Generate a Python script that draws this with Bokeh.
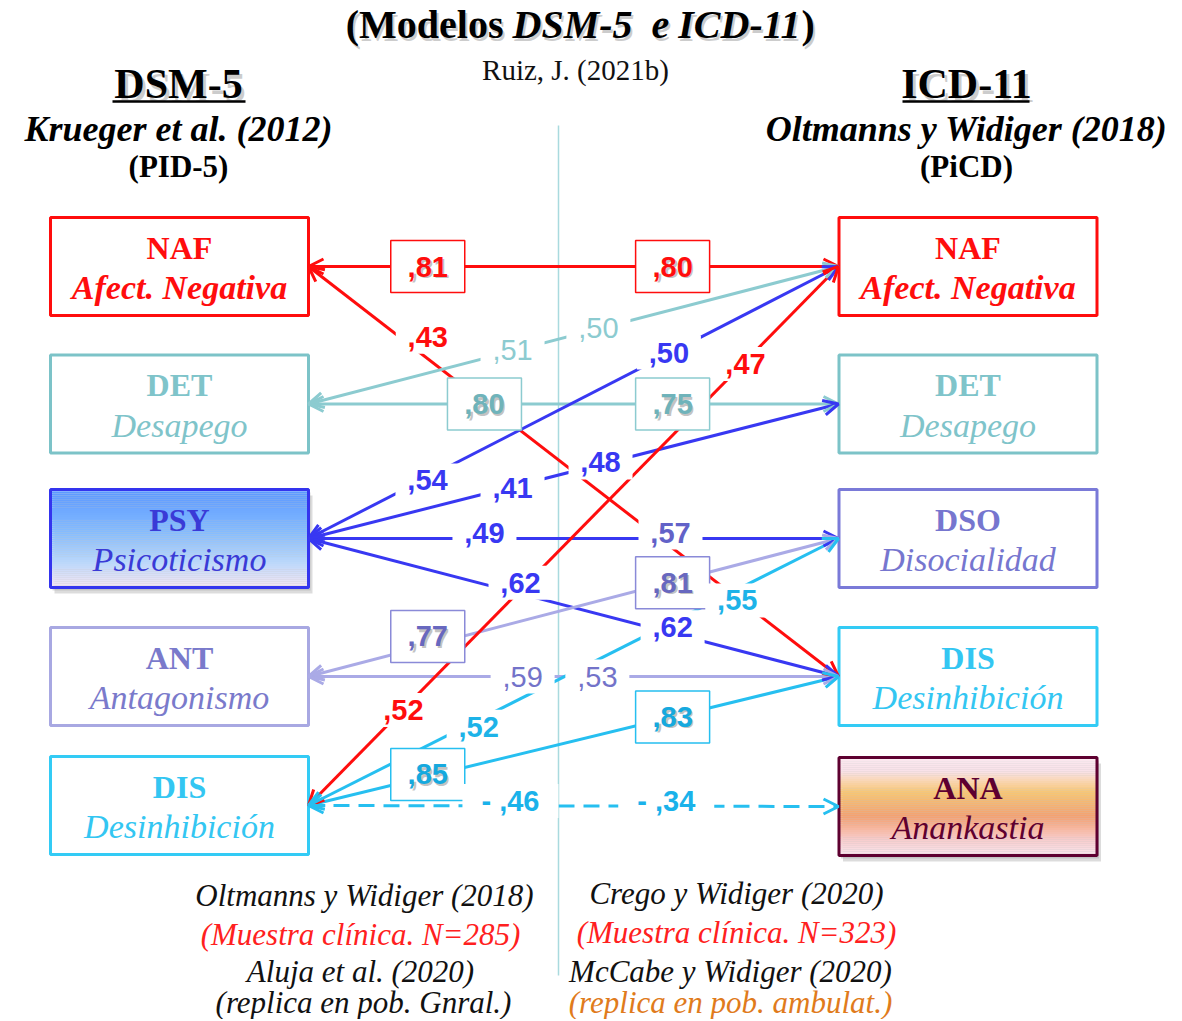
import numpy as np
from bokeh.plotting import figure
from bokeh.models import Range1d, Arrow, OpenHead
from bokeh.core.properties import value
from bokeh.embed import file_html
from bokeh.resources import INLINE

# ------------------------------------------------------------------ data
left_codes = ["NAF", "DET", "PSY", "ANT", "DIS"]
left_names = ["Afect. Negativa", "Desapego", "Psicoticismo", "Antagonismo", "Desinhibición"]
right_codes = ["NAF", "DET", "DSO", "DIS", "ANA"]
right_names = ["Afect. Negativa", "Desapego", "Disocialidad", "Desinhibición", "Anankastia"]

edge_from = [0, 0, 1, 1, 2, 2, 2, 2, 3, 3, 4, 4, 4, 4]      # DSM-5 (PID-5) trait
edge_to = [0, 3, 1, 0, 0, 1, 2, 3, 2, 3, 0, 2, 3, 4]        # ICD-11 (PiCD) trait
val_left = [",81", ",43", ",80", ",51", ",54", ",41", ",49", ",62", ",77", ",59", ",52", ",52", ",85", "- ,46"]
val_right = [",80", "", ",75", ",50", ",50", ",48", ",57", ",62", ",81", ",53", ",47", ",55", ",83", "- ,34"]
edge_boxed = [True, False, True, False, False, False, False, False, True, False, False, False, True, False]
edge_dashed = [False] * 13 + [True]

title_parts = ["(Modelos", "DSM-5", "e", "ICD-11", ")"]
author = "Ruiz, J. (2021b)"
left_head = ["DSM-5", "Krueger et al. (2012)", "(PID-5)"]
right_head = ["ICD-11", "Oltmanns y Widiger (2018)", "(PiCD)"]
left_refs = ["Oltmanns y Widiger (2018)", "(Muestra clínica. N=285)", "Aluja et al. (2020)", "(replica en pob. Gnral.)"]
right_refs = ["Crego y Widiger (2020)", "(Muestra clínica. N=323)", "McCabe y Widiger (2020)", "(replica en pob. ambulat.)"]

# ------------------------------------------------------------------ layout / style
W, H = 1180, 1019
RED = "#ff0d0d"
TEAL_L = "#8ccbd0"
TEAL_T = "#7fc4ca"
BLUE = "#3838f2"
LAV_L = "#aaaae6"
LAV_T = "#7373c9"
CYAN = "#26bff0"

left_box_col = [RED, "#7cc3c8", "#3434ee", "#a8a8e2", "#33cbf5"]
left_code_col = [RED, TEAL_T, "#3a3ad6", "#7a7acb", "#33c6f2"]
right_box_col = [RED, "#7cc3c8", "#7a7ad8", "#33cbf5", "#5e0030"]
right_code_col = [RED, TEAL_T, "#7676cf", "#33c6f2", "#5e0030"]
left_name_bold = [True, False, False, False, False]
right_name_bold = [True, False, False, False, False]

edge_col = [RED, RED, TEAL_L, TEAL_L, BLUE, BLUE, BLUE, BLUE, LAV_L, LAV_L, RED, CYAN, CYAN, CYAN]
lab_col_l = [RED, RED, "#6fb3ba", TEAL_L, BLUE, BLUE, BLUE, BLUE, "#6868bf", LAV_T, RED, "#1db3e8", "#16a9de", "#1ab2ea"]
lab_col_r = [RED, RED, "#6fb3ba", TEAL_L, BLUE, BLUE, "#6262c8", BLUE, "#6868bf", LAV_T, RED, "#1db3e8", "#16a9de", "#1ab2ea"]
lab_bold = [True, True, True, False, True, True, True, True, True, False, True, True, True, True]

t_left = [.225, .225, .332, .385, .2245, .385, .332, .40, .225, .404, .179, .321, .225, .381]
dy_left = [0, -22, 0, -1, 3, 1, -6, -11, -9, 0, 1, 7, -2, -5]
t_right = [.687, .687, .687, .547, .68, .551, .683, .687, .687, .545, .8245, .809, .687, .675]
dy_right = [0, 0, 0, -1, -1, -2, -6, -6, 1, 0, 3, 11, 0, -5]

LX, RX = 308, 838
LCX, RCX, BW, BH = 179, 967.5, 258, 98
box_y_l = [266, 403.5, 538, 676, 805]
box_y_r = [266, 403.5, 538, 676, 806]

SERIF = value("Liberation Serif")
SANS = value("Liberation Sans")

p = figure(width=W, height=H, x_range=Range1d(0, W), y_range=Range1d(H, 0),
           output_backend="svg", toolbar_location=None, min_border=0,
           x_axis_location=None, y_axis_location=None)
p.grid.visible = False
p.outline_line_color = None
p.background_fill_color = "white"

# center divider
p.segment(x0=[558], y0=[125], x1=[558], y1=[975], line_color="#a9dade", line_width=1.5)

# edges
for i in range(len(edge_from)):
    y0 = box_y_l[edge_from[i]]
    y1 = box_y_r[edge_to[i]]
    p.segment(x0=[LX], y0=[y0], x1=[RX], y1=[y1], line_color=edge_col[i], line_width=3,
              line_dash="16 9" if edge_dashed[i] else "solid")
    p.add_layout(Arrow(x_start=RX, y_start=y1, x_end=LX, y_end=y0, line_alpha=0,
                       start=OpenHead(size=15, line_color=edge_col[i], line_width=3),
                       end=OpenHead(size=15, line_color=edge_col[i], line_width=3)))


def grad(stops, n):
    pos = [s[0] for s in stops]
    cols = np.array([[int(s[1][k:k + 2], 16) for k in (1, 3, 5)] for s in stops], float)
    out = []
    for k in range(n):
        f = (k + 0.5) / n
        rgb = [int(round(np.interp(f, pos, cols[:, c]))) for c in range(3)]
        out.append("#%02x%02x%02x" % tuple(rgb))
    return out


def draw_box(cx, cy, border, gradient=None, shadow=False):
    if shadow:
        p.rect(x=[cx + 4], y=[cy + 6], width=BW, height=BH, fill_color="#9a9a9a",
               fill_alpha=0.35, line_color=None)
        p.rect(x=[cx + 2], y=[cy + 3], width=BW, height=BH, fill_color="#8a8a8a",
               fill_alpha=0.3, line_color=None)
    if gradient is not None:
        n = 50
        ys = np.linspace(cy - BH / 2, cy + BH / 2, n + 1)
        p.quad(left=cx - BW / 2, right=cx + BW / 2, top=ys[:-1], bottom=ys[1:],
               fill_color=grad(gradient, n), line_color=None)
        p.rect(x=[cx], y=[cy], width=BW, height=BH, fill_color=None, line_color=border, line_width=3)
    else:
        p.rect(x=[cx], y=[cy], width=BW, height=BH, fill_color="white", line_color=border, line_width=3)


psy_grad = [(0, "#5a97ff"), (0.45, "#86bdff"), (0.75, "#bcd8fa"), (1, "#f6e6f4")]
ana_grad = [(0, "#fbe8f0"), (0.14, "#f9e2e8"), (0.36, "#f8c672"), (0.6, "#f4a070"), (0.84, "#f7cccc"), (1, "#fbe6ee")]

for i in range(5):
    draw_box(LCX, box_y_l[i], left_box_col[i], psy_grad if left_codes[i] == "PSY" else None,
             shadow=left_codes[i] == "PSY")
    draw_box(RCX, box_y_r[i], right_box_col[i], ana_grad if right_codes[i] == "ANA" else None,
             shadow=right_codes[i] == "ANA")
    for cx, cy, code, name, col, nb in [(LCX, box_y_l[i], left_codes[i], left_names[i], left_code_col[i], left_name_bold[i]),
                                        (RCX, box_y_r[i], right_codes[i], right_names[i], right_code_col[i], right_name_bold[i])]:
        p.text(x=[cx], y=[cy - 19], text=[code], text_font=SERIF, text_font_style="bold",
               text_font_size="32px", text_color=col, text_align="center", text_baseline="middle")
        p.text(x=[cx], y=[cy + 21], text=[name], text_font=SERIF,
               text_font_style="bold italic" if nb else "italic",
               text_font_size="34px", text_color=col, text_align="center", text_baseline="middle")

# value labels
for i in range(len(edge_from)):
    y0 = box_y_l[edge_from[i]]
    y1 = box_y_r[edge_to[i]]
    for txt, t, dy, col in [(val_left[i], t_left[i], dy_left[i], lab_col_l[i]),
                            (val_right[i], t_right[i], dy_right[i], lab_col_r[i])]:
        if not txt:
            continue
        x = LX + t * (RX - LX)
        y = y0 + t * (y1 - y0) + dy
        if edge_boxed[i]:
            p.rect(x=[x], y=[y], width=74, height=52, fill_color="white",
                   line_color=edge_col[i] if edge_col[i] != LAV_L else "#8a8ad8", line_width=1.5)
            p.text(x=[x + 2], y=[y + 2], text=[txt], text_font=SANS, text_font_style="bold",
                   text_font_size="28px", text_color="#9a9a9a", text_alpha=0.6,
                   text_align="center", text_baseline="middle")
        else:
            p.rect(x=[x], y=[y], width=16 * len(txt) + 16, height=34, fill_color="white", line_color=None)
        p.text(x=[x], y=[y], text=[txt], text_font=SANS,
               text_font_style="bold" if lab_bold[i] else "normal",
               text_font_size="29px", text_color=col, text_align="center", text_baseline="middle")

# title
tx = [503, 512, 660, 800, 801]
talign = ["right", "left", "center", "right", "left"]
tstyle = ["bold", "bold italic", "bold italic", "bold italic", "bold"]
for k in range(5):
    p.text(x=[tx[k] + 2], y=[24 + 3], text=[title_parts[k]], text_font=SERIF, text_font_style=tstyle[k],
           text_font_size="40px", text_color="#999999", text_alpha=0.5, text_align=talign[k], text_baseline="middle")
    p.text(x=[tx[k]], y=[24], text=[title_parts[k]], text_font=SERIF, text_font_style=tstyle[k],
           text_font_size="40px", text_color="black", text_align=talign[k], text_baseline="middle")
p.text(x=[575], y=[69], text=[author], text_font=SERIF, text_font_size="29px",
       text_color="#111111", text_align="center", text_baseline="middle")

# column headings
for cx, heads, ul in [(178, left_head, (112, 245)), (966, right_head, (902, 1029))]:
    p.text(x=[cx + 3], y=[83 + 4], text=[heads[0]], text_font=SERIF, text_font_style="bold",
           text_font_size="42px", text_color="#999999", text_alpha=0.5, text_align="center", text_baseline="middle")
    p.text(x=[cx], y=[83], text=[heads[0]], text_font=SERIF, text_font_style="bold",
           text_font_size="42px", text_color="black", text_align="center", text_baseline="middle")
    p.segment(x0=[ul[0]], y0=[101], x1=[ul[1]], y1=[101], line_color="black", line_width=2.5)
    p.text(x=[cx], y=[128], text=[heads[1]], text_font=SERIF, text_font_style="bold italic",
           text_font_size="36px", text_color="black", text_align="center", text_baseline="middle")
    p.text(x=[cx], y=[166], text=[heads[2]], text_font=SERIF, text_font_style="bold",
           text_font_size="31px", text_color="black", text_align="center", text_baseline="middle")

# references at bottom
ref_col = ["#111111", "#ff2020", "#111111", "#111111"]
ref_col_r = ["#111111", "#ff2020", "#111111", "#e07b1c"]
ly = [895, 934, 971, 1002]
ry = [893, 932, 971, 1002]
lx = [364, 360, 360, 363]
rx = [736, 736, 730, 730]
for k in range(4):
    p.text(x=[lx[k]], y=[ly[k]], text=[left_refs[k]], text_font=SERIF, text_font_style="italic",
           text_font_size="31px", text_color=ref_col[k], text_align="center", text_baseline="middle")
    p.text(x=[rx[k]], y=[ry[k]], text=[right_refs[k]], text_font=SERIF, text_font_style="italic",
           text_font_size="31px", text_color=ref_col_r[k], text_align="center", text_baseline="middle")

open("out.html", "w").write(file_html(p, INLINE))
